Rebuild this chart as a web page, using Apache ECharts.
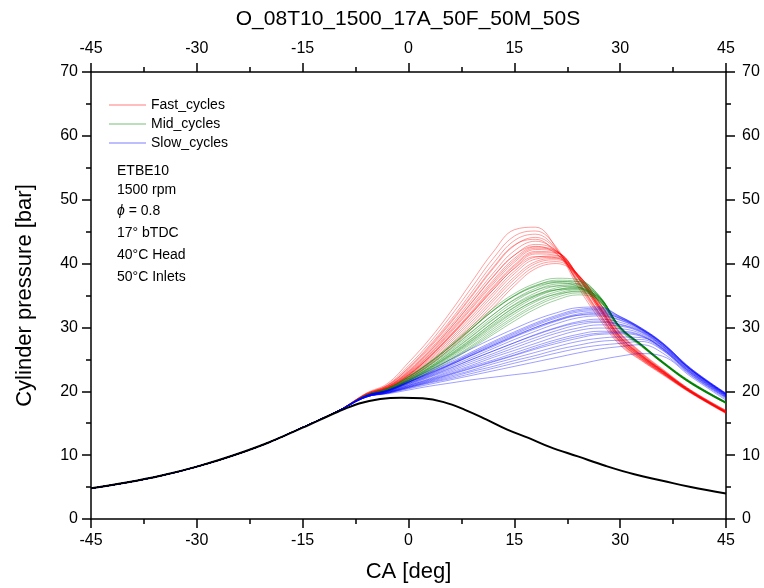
<!DOCTYPE html>
<html>
<head>
<meta charset="utf-8">
<script src="https://cdn.jsdelivr.net/npm/echarts@6/dist/echarts.min.js"></script>
<style>html,body{margin:0;padding:0;background:#fff;}#chart{width:764px;height:588px;}</style>
</head>
<body>
<div id="chart"></div>
<script>
// Shared compression part (all fired cycles)
const CA_PRE = [-45,-40,-35,-30,-25,-20,-15,-10];
const P_PRE  = [4.8,5.7,6.8,8.2,9.9,11.9,14.35,16.9];
// Crank angles for per-cycle values
const CA_CYC = [-6,-3,0,3,6,9,12,15,18,21,24,27,30,33,36,40,45];

const FAST = [
 [19.7,21.2,24.5,28.2,32.5,37.2,41.8,45.3,45.7,42.3,36.4,31.4,27.2,24.8,22.6,19.7,16.5],
 [19.6,21.0,24.0,27.6,31.8,36.3,40.8,44.3,45.1,42.5,36.8,31.8,27.4,24.9,22.7,19.8,16.6],
 [19.6,20.9,23.7,27.2,31.2,35.6,40.0,43.6,44.6,42.2,37.0,32.0,27.6,25.0,22.8,19.8,16.6],
 [19.5,20.8,23.4,26.8,30.7,34.9,39.2,42.8,44.1,42.1,37.2,32.2,27.7,25.1,22.8,19.8,16.6],
 [19.5,20.7,23.2,26.5,30.3,34.4,38.5,42.0,43.5,41.9,37.4,32.4,27.8,25.2,22.9,19.9,16.7],
 [19.5,20.7,23.0,26.2,29.9,33.9,37.9,41.3,43.0,42.0,37.8,32.8,28.0,25.3,23.0,19.9,16.7],
 [19.4,20.6,22.9,26.0,29.6,33.5,37.4,40.8,42.6,41.9,37.9,33.0,28.1,25.4,23.0,19.9,16.7],
 [19.4,20.6,22.7,25.7,29.2,33.0,36.8,40.2,42.2,41.8,38.1,33.2,28.3,25.5,23.1,20.0,16.7],
 [19.4,20.5,22.6,25.5,28.9,32.6,36.4,39.8,41.9,41.7,38.2,33.4,28.5,25.6,23.2,20.0,16.8],
 [19.4,20.5,22.5,25.3,28.6,32.2,35.9,39.3,41.5,41.3,37.9,33.2,28.4,25.5,23.1,20.0,16.8],
 [19.4,20.4,22.4,25.1,28.3,31.8,35.4,38.8,41.0,41.2,38.3,33.6,28.7,25.7,23.2,20.1,16.8],
 [19.3,20.4,22.3,24.9,28.0,31.4,35.0,38.4,40.7,41.0,38.1,33.5,28.6,25.7,23.2,20.0,16.8],
 [19.3,20.4,22.2,24.7,27.7,31.0,34.5,37.9,40.3,40.8,38.3,33.8,28.9,25.8,23.3,20.1,16.9],
 [19.3,20.3,22.1,24.5,27.4,30.6,34.1,37.5,40.0,40.6,38.3,33.9,29.0,25.9,23.3,20.1,16.9],
 [19.3,20.3,22.0,24.3,27.1,30.2,33.6,37.0,39.6,40.3,38.3,34.0,29.1,26.0,23.4,20.2,17.0],
 [19.3,20.2,21.9,24.1,26.8,29.8,33.1,36.5,39.2,40.0,38.2,34.0,29.2,26.1,23.5,20.2,17.0],
 [19.4,20.6,22.8,25.8,29.4,33.2,37.1,40.5,42.4,41.9,38.0,33.1,28.2,25.4,23.0,19.9,16.7],
 [19.4,20.5,22.5,25.4,28.8,32.4,36.2,39.6,41.7,41.6,38.2,33.4,28.5,25.6,23.2,20.0,16.8],
 [19.6,20.9,23.6,27.0,30.9,35.1,39.4,42.9,43.8,41.6,37.2,32.3,27.8,25.1,22.8,19.8,16.6],
 [19.5,20.7,23.1,26.3,30.0,34.0,38.0,41.3,42.7,41.5,37.7,32.8,28.1,25.3,22.9,19.9,16.7],
 [19.4,20.5,22.6,25.4,28.7,32.3,35.9,39.2,41.1,40.9,37.8,33.2,28.5,25.6,23.1,20.0,16.8]
];
const MID = [
 [19.4,20.4,22.3,24.6,27.3,30.2,33.0,35.3,36.9,37.7,37.5,35.0,30.0,27.2,24.5,21.3,18.2],
 [19.4,20.4,22.2,24.4,27.0,29.8,32.6,34.9,36.5,37.4,37.2,34.9,30.0,27.2,24.5,21.3,18.2],
 [19.3,20.3,22.0,24.1,26.6,29.3,32.0,34.4,36.1,37.1,37.2,35.0,30.1,27.3,24.6,21.3,18.2],
 [19.3,20.3,21.9,24.0,26.4,29.0,31.6,34.0,35.8,36.8,36.9,34.8,30.0,27.2,24.5,21.3,18.2],
 [19.3,20.2,21.8,23.8,26.1,28.6,31.2,33.6,35.4,36.5,36.7,34.8,30.0,27.2,24.5,21.3,18.2],
 [19.3,20.2,21.8,23.7,25.9,28.3,30.8,33.2,35.0,36.2,36.5,34.8,30.1,27.3,24.6,21.4,18.3],
 [19.3,20.2,21.7,23.6,25.7,28.0,30.5,32.8,34.7,35.9,36.3,34.7,30.1,27.3,24.6,21.4,18.3],
 [19.3,20.1,21.6,23.4,25.5,27.7,30.1,32.4,34.3,35.6,36.1,34.6,30.0,27.3,24.6,21.4,18.3],
 [19.2,20.1,21.6,23.3,25.3,27.5,29.8,32.1,34.0,35.3,35.9,34.7,30.1,27.4,24.7,21.5,18.3],
 [19.2,20.1,21.5,23.2,25.1,27.2,29.5,31.7,33.6,35.0,35.7,34.6,30.1,27.4,24.7,21.5,18.3],
 [19.2,20.0,21.4,23.1,25.0,27.0,29.2,31.4,33.3,34.7,35.4,34.4,30.0,27.3,24.6,21.4,18.2],
 [19.2,20.0,21.4,23.0,24.8,26.8,28.9,31.0,32.9,34.3,35.1,34.2,29.9,27.3,24.6,21.4,18.2],
 [19.4,20.4,22.2,24.5,27.1,29.9,32.6,34.9,36.4,37.0,36.4,33.9,29.5,27.0,24.4,21.2,18.1],
 [19.3,20.3,22.0,24.2,26.7,29.4,32.0,34.3,35.8,36.5,36.3,34.2,29.7,27.1,24.4,21.2,18.1],
 [19.3,20.2,21.8,23.8,26.2,28.7,31.3,33.5,35.1,35.9,36.0,34.2,29.8,27.2,24.5,21.3,18.1],
 [19.2,20.1,21.6,23.5,25.6,27.9,30.3,32.5,34.2,35.2,35.6,34.3,29.9,27.3,24.6,21.4,18.2],
 [19.4,20.4,22.3,24.5,27.1,29.9,32.7,35.0,36.6,37.2,36.8,34.4,29.8,27.1,24.4,21.2,18.1],
 [19.3,20.2,21.7,23.6,25.8,28.2,30.8,33.1,34.9,35.9,36.2,34.5,29.9,27.2,24.5,21.3,18.2]
];
const SLOW = [
 [19.3,20.2,21.7,23.3,25.0,26.7,28.3,29.8,31.2,32.3,33.1,33.2,31.7,29.9,27.6,23.6,19.7],
 [19.3,20.1,21.5,23.0,24.6,26.2,27.8,29.3,30.7,31.9,32.8,33.0,31.7,29.9,27.6,23.6,19.7],
 [19.3,20.1,21.4,22.8,24.3,25.9,27.4,28.9,30.3,31.5,32.4,32.6,31.5,29.8,27.5,23.5,19.6],
 [19.2,20.0,21.3,22.6,24.1,25.6,27.0,28.5,29.8,31.0,31.9,32.2,31.4,29.7,27.4,23.4,19.6],
 [19.2,20.0,21.2,22.5,23.9,25.3,26.7,28.1,29.4,30.6,31.5,31.8,31.1,29.6,27.3,23.4,19.5],
 [19.2,20.0,21.1,22.3,23.6,25.0,26.3,27.6,28.9,30.0,30.9,31.3,30.8,29.5,27.2,23.3,19.5],
 [19.2,19.9,21.0,22.2,23.4,24.7,25.9,27.2,28.4,29.5,30.4,30.8,30.4,29.3,27.1,23.2,19.4],
 [19.2,19.9,20.9,22.0,23.2,24.4,25.6,26.8,28.0,29.1,29.9,30.4,30.2,29.2,27.0,23.1,19.4],
 [19.2,19.9,20.9,21.9,23.0,24.1,25.3,26.4,27.5,28.6,29.5,29.9,29.8,29.0,26.9,23.1,19.3],
 [19.1,19.8,20.8,21.8,22.8,23.9,24.9,26.0,27.1,28.1,28.9,29.4,29.4,28.8,26.8,23.0,19.3],
 [19.1,19.8,20.7,21.6,22.6,23.6,24.6,25.6,26.6,27.5,28.3,28.9,29.0,28.6,26.7,22.9,19.2],
 [19.1,19.8,20.6,21.5,22.4,23.3,24.3,25.2,26.1,27.0,27.8,28.3,28.5,28.4,26.6,22.8,19.1],
 [19.1,19.7,20.6,21.4,22.2,23.1,23.9,24.8,25.6,26.5,27.2,27.8,28.0,28.1,26.5,22.7,19.0],
 [19.1,19.7,20.5,21.3,22.0,22.8,23.6,24.4,25.2,26.0,26.7,27.2,27.5,27.8,26.4,22.6,19.0],
 [19.1,19.7,20.4,21.1,21.8,22.5,23.2,23.9,24.6,25.3,26.0,26.6,27.0,27.3,26.0,22.5,18.8],
 [19.1,19.6,20.2,20.8,21.3,21.8,22.2,22.6,23.0,23.6,24.2,24.9,25.5,25.9,25.5,22.3,18.6],
 [19.2,20.0,21.2,22.4,23.7,25.0,26.3,27.6,28.8,29.9,30.7,31.0,30.5,29.4,27.1,23.3,19.4],
 [19.3,20.1,21.4,22.8,24.2,25.7,27.2,28.6,30.0,31.1,31.9,32.0,31.2,29.7,27.4,23.4,19.5],
 [19.3,20.1,21.5,22.9,24.4,26.0,27.6,29.1,30.5,31.7,32.6,32.8,31.6,29.8,27.5,23.5,19.6],
 [19.2,20.1,21.4,22.7,24.2,25.7,27.2,28.7,30.0,31.2,32.1,32.4,31.4,29.7,27.4,23.4,19.6],
 [19.1,19.8,20.7,21.7,22.7,23.7,24.7,25.7,26.8,27.8,28.6,29.1,29.2,28.7,26.7,22.9,19.2]
];
// Motored (black) curve
const MOTOR_CA = [-45,-40,-35,-30,-25,-20,-15,-10,-7,-4,-1,2,5,8,11,14,17,20,24,28,32,36,40,45];
const MOTOR_P  = [4.8,5.7,6.8,8.2,9.9,11.9,14.3,16.8,18.1,18.8,19.0,18.9,18.3,17.1,15.6,14.0,12.7,11.3,9.8,8.3,7.0,6.0,5.0,4.0];

const X_TICKS = [-45,-30,-15,0,15,30,45];
const Y_TICKS = [0,10,20,30,40,50,60,70];
const TITLE = 'O_08T10_1500_17A_50F_50M_50S';
const NOTES = ['ETBE10','1500 rpm','{i|\u03D5} = 0.8','17\u00B0 bTDC','40\u00B0C Head','50\u00B0C Inlets'];

const FONT = 'Liberation Sans, Arial, sans-serif';
const chart = echarts.init(document.getElementById('chart'), null, {renderer:'canvas'});

function cycleData(arr){
  return CA_PRE.map((c,i)=>[c,P_PRE[i]]).concat(CA_CYC.map((c,i)=>[c,arr[i]]));
}
const series = [];
function addGroup(list, name, color){
  list.forEach(arr=>{
    series.push({type:'line', name:name, data:cycleData(arr), smooth:0.4, symbol:'none',
      showSymbol:false, silent:true, animation:false,
      lineStyle:{color:color, width:0.75, opacity:0.5}, itemStyle:{color:color}});
  });
}
addGroup(FAST,'Fast_cycles','#ff0000');
addGroup(MID,'Mid_cycles','#008000');
addGroup(SLOW,'Slow_cycles','#0000ff');
series.push({type:'line', name:'Motored', data:MOTOR_CA.map((c,i)=>[c,MOTOR_P[i]]), smooth:0.4,
  symbol:'none', silent:true, animation:false, lineStyle:{color:'#000', width:2}, z:5});

function xAx(pos, withName){
  return {type:'value', position:pos, min:X_TICKS[0], max:X_TICKS[X_TICKS.length-1], interval:15,
    axisLine:{onZero:false, lineStyle:{color:'#000', width:1.5}},
    axisTick:{length:9, lineStyle:{color:'#000', width:1.5}},
    minorTick:{show:true, splitNumber:2, length:5, lineStyle:{color:'#000', width:1.5}},
    splitLine:{show:false},
    axisLabel:{fontSize:16, color:'#000', margin: pos==='top' ? 15 : 14, fontFamily:FONT},
    name: withName ? 'CA [deg]' : '', nameLocation:'middle', nameGap:42,
    nameTextStyle:{fontSize:22, color:'#000', fontFamily:FONT}};
}
function yAx(pos, withName){
  return {type:'value', position:pos, min:Y_TICKS[0], max:Y_TICKS[Y_TICKS.length-1], interval:10,
    axisLine:{onZero:false, lineStyle:{color:'#000', width:1.5}},
    axisTick:{length:9, lineStyle:{color:'#000', width:1.5}},
    minorTick:{show:true, splitNumber:2, length:5, lineStyle:{color:'#000', width:1.5}},
    splitLine:{show:false},
    axisLabel:{fontSize:16, color:'#000', margin: pos==='right' ? 16 : 13, fontFamily:FONT},
    name: withName ? 'Cylinder pressure [bar]' : '', nameLocation:'middle', nameGap:55, nameRotate:90,
    nameTextStyle:{fontSize:22, color:'#000', fontFamily:FONT}};
}

const graphics = [{type:'text', x:408, y:19, style:{text:TITLE, fill:'#000', font:'21px '+FONT, textAlign:'center', textVerticalAlign:'middle'}}];
NOTES.forEach((t,i)=>{
  graphics.push({type:'text', x:117, y:[171,190,211,233,255,277][i], style:{text:t, fill:'#000',
    fontSize:14, fontFamily:FONT, verticalAlign:'middle',
    rich:{i:{fontStyle:'italic', fontSize:14, fontFamily:FONT, fill:'#000'}}}});
});

chart.setOption({
  animation:false,
  backgroundColor:'#fff',
  grid:{left:91, right:38, top:72, bottom:68},
  legend:{data:['Fast_cycles','Mid_cycles','Slow_cycles'], orient:'vertical', left:109, top:97, padding:0,
    icon:'rect', itemWidth:37, itemHeight:1.5, itemGap:3, selectedMode:false,
    itemStyle:{opacity:0.35},
    textStyle:{fontSize:14, color:'#000', fontFamily:FONT, lineHeight:16}},
  xAxis:[xAx('bottom',true), xAx('top',false)],
  yAxis:[yAx('left',true), yAx('right',false)],
  series:series,
  graphic:graphics
});
</script>
</body>
</html>
